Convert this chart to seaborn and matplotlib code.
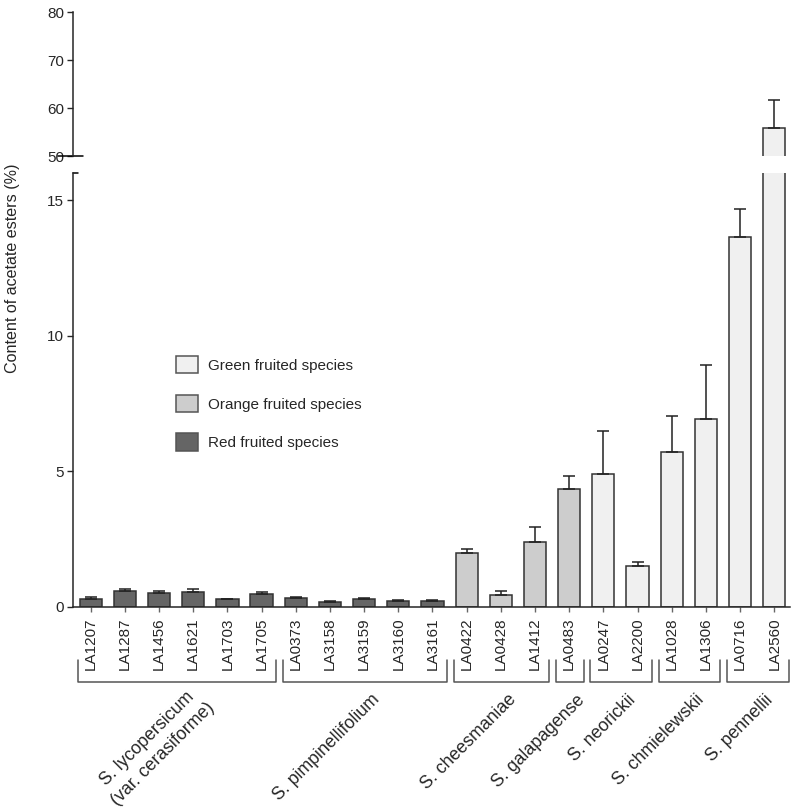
import matplotlib
matplotlib.use("Agg")
import matplotlib.pyplot as plt
import seaborn as sns
import pandas as pd
from matplotlib.patches import Patch

# accessions in plotting order
accessions = ["LA1207", "LA1287", "LA1456", "LA1621", "LA1703", "LA1705",
              "LA0373", "LA3158", "LA3159", "LA3160", "LA3161",
              "LA0422", "LA0428", "LA1412", "LA0483",
              "LA0247", "LA2200", "LA1028", "LA1306", "LA0716", "LA2560"]
fruit_colour = ["Red"] * 11 + ["Orange"] * 4 + ["Green"] * 6
content = [0.28, 0.59, 0.53, 0.57, 0.28, 0.48,
           0.34, 0.20, 0.30, 0.22, 0.21,
           1.98, 0.44, 2.41, 4.34,
           4.92, 1.50, 5.72, 6.94, 13.64, 55.8]
sem = [0.08, 0.07, 0.07, 0.09, 0.03, 0.07,
       0.03, 0.02, 0.04, 0.03, 0.04,
       0.14, 0.14, 0.54, 0.49,
       1.56, 0.17, 1.32, 1.98, 1.05, 5.9]

species = ["S. lycopersicum\n(var. cerasiforme)", "S. pimpinellifolium",
           "S. cheesmaniae", "S. galapagense", "S. neorickii",
           "S. chmielewskii", "S. pennellii"]
group_sizes = [6, 5, 3, 1, 2, 2, 2]

palette = {"Green": "#f0f0f0", "Orange": "#cdcdcd", "Red": "#656565"}
legend_labels = {"Green": "Green fruited species",
                 "Orange": "Orange fruited species",
                 "Red": "Red fruited species"}

df = pd.DataFrame({"accession": accessions, "fruit": fruit_colour,
                   "content": content, "sem": sem})

sns.set_style("ticks")
plt.rcParams["font.family"] = ["Liberation Sans", "DejaVu Sans"]

W, H = 793, 809
fig = plt.figure(figsize=(W / 100, H / 100), dpi=100)
left, right = 72.7 / W, 790 / W
ax_top = fig.add_axes([left, 1 - 156 / H, right - left, 143.7 / H])
ax_bot = fig.add_axes([left, 1 - 607 / H, right - left, 434 / H])

for ax in (ax_top, ax_bot):
    sns.barplot(data=df, x="accession", y="content", hue="fruit",
                order=accessions, palette=palette, dodge=False,
                width=0.65, errorbar=None, edgecolor="#333333",
                linewidth=1.1, legend=False, ax=ax)
    ax.errorbar(range(len(accessions)), df["content"],
                yerr=[[0] * len(sem), df["sem"]], fmt="none",
                ecolor="#222222", elinewidth=1.1, capsize=4.3,
                capthick=1.1)
    ax.set_xlim(-0.527, 20.46)
    ax.set_xlabel("")
    ax.set_ylabel("")
    for s in ("top", "right"):
        ax.spines[s].set_visible(False)
    ax.spines["left"].set_linewidth(1.1)
    ax.spines["bottom"].set_linewidth(1.1)
    ax.tick_params(axis="y", length=4.3, width=1.0, labelsize=11, pad=2)

ax_top.set_ylim(50, 80)
ax_top.set_yticks([50, 60, 70, 80])
ax_top.spines["bottom"].set_visible(False)
ax_top.tick_params(axis="x", bottom=False, labelbottom=False)

ax_bot.set_ylim(0, 16)
ax_bot.set_yticks([0, 5, 10, 15])
ax_bot.tick_params(axis="x", length=3.6, width=1.0, color="#666666",
                   labelsize=11, pad=4, rotation=90)

# break marks on the y axis
ax_top.plot([-0.02, 0.015], [0, 0], transform=ax_top.transAxes,
            color="black", lw=1.1, clip_on=False)
ax_bot.plot([0, 0.008], [1, 1], transform=ax_bot.transAxes,
            color="black", lw=1.1, clip_on=False)

# species brackets and labels
trans = ax_bot.get_xaxis_transform()
start = 0
for name, n in zip(species, group_sizes):
    x0, x1 = start - 0.38, start + n - 1 + 0.42
    ax_bot.plot([x0, x0, x1, x1], [-0.122, -0.173, -0.173, -0.122],
                transform=trans, color="#555555", lw=1.1, clip_on=False)
    xc = (x0 + x1) / 2
    shift = 0.8 if "\n" in name else 0.35
    ax_bot.text(xc + shift, -0.208, name, transform=trans, rotation=45,
                rotation_mode="anchor", ha="right", va="center",
                multialignment="center", linespacing=1.4, fontsize=12.8)
    start += n

handles = [Patch(facecolor=palette[k], edgecolor="#555555", linewidth=1.1,
                 label=legend_labels[k]) for k in ["Green", "Orange", "Red"]]
fig.legend(handles=handles, loc="upper left",
           bbox_to_anchor=(176 / W, 1 - 356 / H), frameon=False,
           fontsize=11, handlelength=1.44, handleheight=1.37,
           labelspacing=1.4, handletextpad=0.65, borderpad=0,
           borderaxespad=0)

fig.text(13 / W, 1 - 268 / H, "Content of acetate esters (%)",
         rotation=90, ha="center", va="center", fontsize=11.6)

fig.savefig("out.png", dpi=100)
